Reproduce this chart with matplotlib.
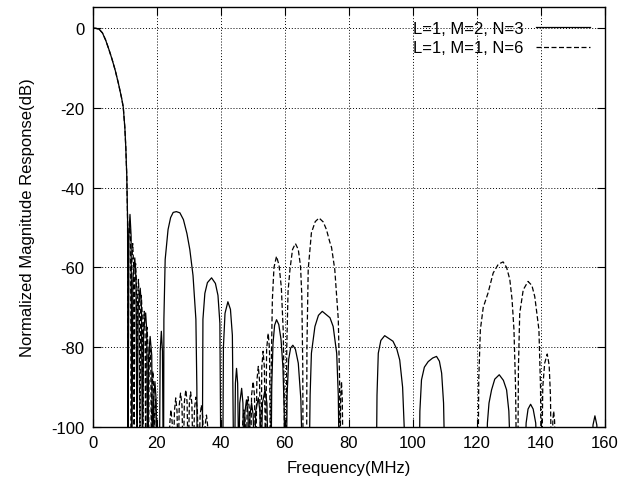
import matplotlib
matplotlib.use('Agg')
import matplotlib.pyplot as plt

plt.rcParams['font.family'] = ['Liberation Sans', 'DejaVu Sans']
plt.rcParams['axes.unicode_minus'] = False

# Banda passante (comum às duas curvas)
pass_freq = [0, 1, 2, 3, 4, 5, 6, 7, 8, 9, 9.5, 10, 10.3, 10.6, 10.85]
pass_db = [0, -0.05, -0.3, -1.2, -3, -5.3, -7.8, -10.6, -13.9, -17.6, -19.8, -25, -30, -37, -48]

# L=1, M=2, N=3 (linha cheia)
solid_freq = [
    11.0, 11.25, 11.6, 11.95, 12.2, 12.5, 13.1, 13.5, 13.8, 14.15, 14.8, 15.2, 15.5,
    15.85, 16.5, 16.85, 17.1, 17.45, 17.9, 18.4, 18.7, 19.0, 19.4, 19.75, 20.0,
    20.8, 21.05, 21.4, 21.75, 22.0,
    22.1, 22.2, 22.6, 23.5, 24.3, 25.1, 26.1, 27.2, 28.3, 29.4, 30.3, 31.3, 32.2, 32.5, 32.6,
    34.2, 34.4, 35.0, 35.8, 37.1, 38.3, 39.1, 39.7, 40.0,
    40.6, 40.8, 41.3, 42.2, 43.0, 43.6, 44.0,
    44.3, 44.55, 44.9, 45.25, 45.6, 45.9, 46.5, 46.9, 47.2, 47.5, 48.0, 48.5, 48.8,
    49.1, 49.6, 50.1, 50.5, 50.9, 51.7, 52.2, 52.6, 53.0, 53.8, 54.4, 54.8,
    55.7, 55.9, 56.3, 56.8, 57.4, 58.1, 58.8, 59.4, 59.8, 60.0,
    60.5, 60.7, 61.2, 61.8, 62.5, 63.3, 64.2, 65.0, 65.5,
    67.6, 67.9, 68.3, 69.4, 70.5, 71.7, 72.9, 74.1, 75.1, 76.2, 76.7, 77.0,
    88.6, 88.8, 89.2, 90.0, 91.2, 92.5, 93.8, 95.0, 95.9, 96.8, 97.3, 97.5,
    102.0, 102.2, 102.7, 103.6, 104.8, 106.2, 107.4, 108.3, 109.0, 109.6, 110.0,
    123.0, 123.3, 123.8, 124.6, 125.6, 127.0, 128.3, 129.3, 130.0, 130.6,
    135.0, 135.4, 136.0, 136.8, 137.6, 138.4, 138.9,
    156.0, 156.3, 156.9, 157.5, 157.9, 160.0,
]
solid_db = [
    -110, -52, -46.7, -52, -110, -63, -57.6, -63, -110, -70, -65.2, -70, -110,
    -76, -71.4, -76, -110, -82, -77.3, -82, -110, -93, -88.6, -93, -110,
    -110, -81, -76, -81, -110,
    -110, -73, -58, -50.5, -47.5, -46.2, -46, -46.3, -48, -51.5, -55.5, -62, -73, -90, -110,
    -110, -73, -66.5, -63.8, -62.6, -64, -67, -74, -110,
    -110, -80, -71.5, -68.6, -70.5, -77, -110,
    -110, -89, -85.3, -89, -110, -94, -90.3, -94, -110, -96.5, -93.2, -96.5, -110,
    -97, -94, -97, -110, -96, -92.7, -96, -110, -94, -90.7, -94, -110,
    -110, -90, -79, -74.5, -73.1, -74.3, -78, -85, -96, -110,
    -110, -92, -83, -80.2, -79.5, -80.5, -84, -93, -110,
    -110, -92, -81.5, -74.8, -72, -71, -71.8, -72.6, -74.8, -81.5, -92, -110,
    -110, -92, -81.5, -78.3, -77.1, -77.8, -78.5, -80.5, -83.2, -90, -100, -110,
    -110, -96, -88.2, -85, -83.6, -82.7, -82.3, -83.5, -86.5, -94, -110,
    -110, -99, -94, -90.7, -88, -86.9, -88.3, -90.7, -96, -110,
    -110, -99, -95.5, -94.3, -95.5, -99, -110,
    -110, -99.5, -97.2, -99.5, -110, -110,
]

# L=1, M=1, N=6 (linha tracejada)
dashed_freq = [
    11.0, 11.2, 11.5, 11.8, 12.0, 12.18, 12.45, 12.72, 12.9, 13.08, 13.35, 13.62, 13.8,
    13.98, 14.25, 14.52, 14.7, 14.88, 15.15, 15.42, 15.6, 15.78, 16.05, 16.32, 16.5,
    16.68, 16.95, 17.22, 17.4, 17.58, 17.85, 18.12, 18.3, 18.48, 18.75, 19.02, 19.2,
    19.36, 19.6, 19.84, 20.0,
    23.7, 24.05, 24.4, 24.8, 25.15, 25.5, 25.9, 26.3, 26.65, 27.0, 27.4, 27.85, 28.25,
    28.6, 29.05, 29.45, 29.8, 30.15, 30.55, 30.95, 31.35, 31.75, 32.2, 32.65, 33.1,
    33.5, 33.9, 34.35, 34.75, 35.1, 35.5, 35.85, 36.2,
    46.5, 46.85, 47.2, 47.6, 48.0, 48.2, 48.5, 48.9, 49.3, 49.6, 50.1, 50.5, 50.9,
    51.25, 51.7, 52.1, 52.5, 52.8, 53.2, 53.6, 54.0, 54.3, 54.8, 55.2, 55.5,
    55.6, 55.75, 56.1, 56.6, 57.4, 58.2, 58.9, 59.5, 59.8, 59.9,
    60.4, 60.6, 61.0, 61.6, 62.4, 63.3, 64.2, 64.9, 65.3, 65.6, 65.7,
    66.8, 66.9, 67.3, 68.3, 69.5, 70.7, 72.0, 73.0, 74.0, 74.6, 75.6, 76.7, 77.1, 77.25,
    77.45, 77.7, 77.95, 78.2,
    120.4, 120.6, 121.1, 122.0, 123.5, 125.1, 126.7, 128.2, 129.3, 130.3, 131.0, 131.6, 132.1, 132.4,
    132.8, 133.0, 133.4, 134.5, 136.0, 137.2, 138.1, 139.4, 139.9, 140.1,
    140.3, 140.6, 141.2, 142.0, 142.6, 143.0, 143.3,
    143.5, 143.75, 144.0, 144.3, 144.6, 160.0,
]
dashed_db = [
    -110, -53, -48, -53, -110, -59, -54, -59, -110, -64, -59, -64, -110,
    -68, -63, -68, -110, -72, -67, -72, -110, -76, -71, -76, -110,
    -80, -75, -80, -110, -85, -80, -85, -110, -91, -86, -91, -110,
    -97, -93, -97, -110,
    -110, -99, -95.7, -99, -110, -96, -92.7, -96, -110, -94.5, -91.5, -94.5, -110,
    -93.7, -90.7, -93.7, -110, -94.2, -91.2, -94.2, -110, -95.5, -92.5, -95.5, -110,
    -97.5, -94.5, -97.5, -110, -99.5, -97, -99.5, -110,
    -110, -98.5, -95.7, -98.5, -110, -95.5, -92.4, -95.5, -110, -92, -88.6, -92, -110,
    -88.5, -84.8, -88.5, -110, -85, -81, -85, -110, -80.5, -76.5, -80.5, -110,
    -110, -85, -68, -60, -57.2, -59.5, -65, -76, -92, -110,
    -110, -80, -66, -60.5, -55.5, -54, -55.5, -59.7, -67, -85, -110,
    -110, -80, -60.5, -51.3, -48.5, -47.6, -48.6, -50.5, -53.5, -55, -60.5, -73, -88, -110,
    -93, -88.6, -93, -110,
    -110, -88, -75.6, -70, -66.4, -61.4, -59.2, -58.6, -60, -63, -68, -75.6, -90, -110,
    -110, -85, -71.5, -65.6, -63.5, -64.5, -67.3, -75.6, -90, -110,
    -110, -90, -84, -81.7, -84.5, -92, -110,
    -110, -98.5, -96, -98.5, -110, -110,
]

fig = plt.figure(figsize=(6.36, 4.85), dpi=100)
ax = fig.add_axes([0.146, 0.1175, 0.805, 0.866])

ax.plot(pass_freq + solid_freq, pass_db + solid_db, color='black', lw=0.9,
        label='L=1, M=2, N=3')
ax.plot(pass_freq + dashed_freq, pass_db + dashed_db, color='black', lw=0.9,
        dashes=(4, 2), label='L=1, M=1, N=6')

ax.set_xlim(0, 160)
ax.set_ylim(-100, 5.3)
ax.set_xticks(range(0, 161, 20))
ax.set_yticks(range(-100, 1, 20))
ax.grid(True, color='black', linestyle=(0, (1, 2)), linewidth=0.7)
ax.tick_params(direction='in', top=True, right=True, length=6, labelsize=12, pad=6)
for s in ax.spines.values():
    s.set_linewidth(1.0)

ax.set_xlabel('Frequency(MHz)', fontsize=12, labelpad=7)
ax.set_ylabel('Normalized Magnitude Response(dB)', fontsize=12, labelpad=12)

ax.legend(loc='upper right', frameon=False, markerfirst=False, fontsize=12,
          handlelength=3.2, borderaxespad=0.2, labelspacing=0.25,
          bbox_to_anchor=(0.99, 0.99))

fig.savefig('out.png', dpi=100)
